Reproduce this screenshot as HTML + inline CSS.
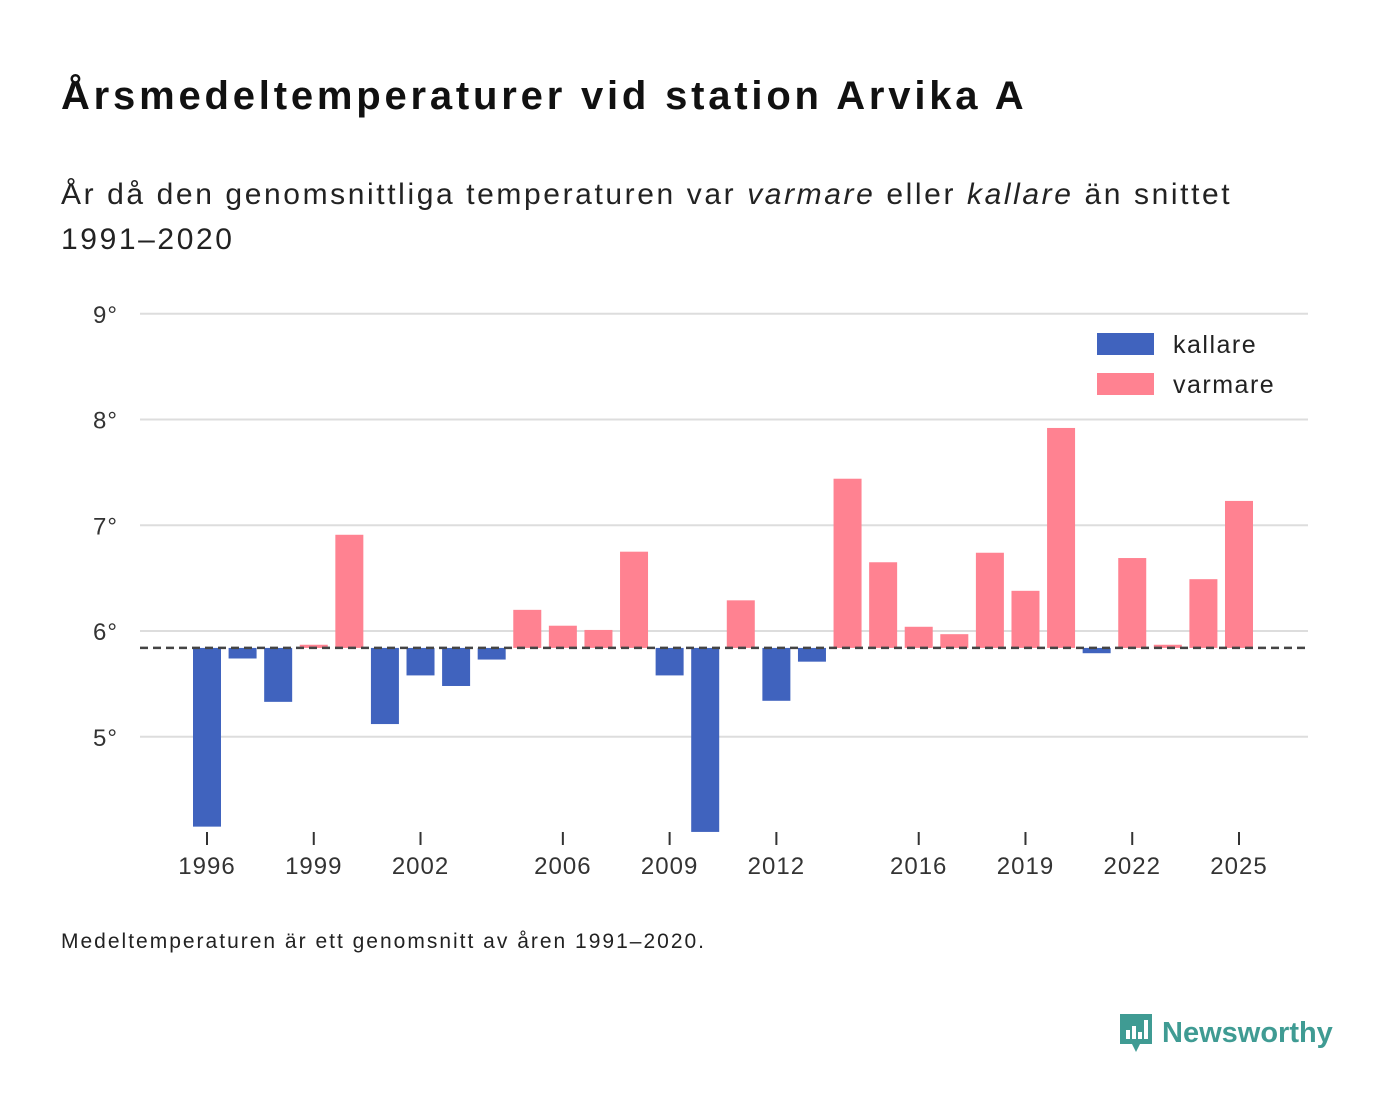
<!DOCTYPE html>
<html><head><meta charset="utf-8"><style>
body{margin:0;width:1400px;height:1116px;background:#fff;font-family:"Liberation Sans","DejaVu Sans",sans-serif;color:#111;overflow:hidden}
#title{position:absolute;left:61px;top:74px;font-size:40px;font-weight:bold;margin:0;letter-spacing:3.8px;white-space:nowrap}
#sub{position:absolute;left:61px;top:172px;font-size:30px;line-height:45px;width:1300px;color:#222;letter-spacing:2.6px}
#note{position:absolute;left:61px;top:930px;font-size:21px;color:#222;letter-spacing:2px;white-space:nowrap}
#logo{position:absolute;left:1118px;top:1012px;display:flex;align-items:center;gap:8px;color:#3f9b93;font-weight:bold;font-size:29px}
</style></head><body>
<h1 id="title">Årsmedeltemperaturer vid station Arvika A</h1>
<div id="sub">År då den genomsnittliga temperaturen var <i>varmare</i> eller <i>kallare</i> än snittet<br>1991–2020</div>
<svg id="chart" width="1400" height="1116" style="position:absolute;left:0;top:0"></svg>
<div id="note">Medeltemperaturen är ett genomsnitt av åren 1991–2020.</div>
<div id="logo"><svg width="36" height="42" viewBox="0 0 36 42"><path d="M2 2h32v30H22l-4 8-4-8H2z" fill="#3f9b93"/><rect x="8" y="18" width="4" height="9" fill="#fff"/><rect x="14" y="14" width="4" height="13" fill="#fff"/><rect x="20" y="20" width="4" height="7" fill="#fff"/><rect x="26" y="8" width="4" height="19" fill="#fff"/></svg><span>Newsworthy</span></div>
<script>
const years=[1996,1997,1998,1999,2000,2001,2002,2003,2004,2005,2006,2007,2008,2009,2010,2011,2012,2013,2014,2015,2016,2017,2018,2019,2020,2021,2022,2023,2024,2025];
const temps=[4.15,5.74,5.33,5.87,6.91,5.12,5.58,5.48,5.73,6.20,6.05,6.01,6.75,5.58,4.10,6.29,5.34,5.71,7.44,6.65,6.04,5.97,6.74,6.38,7.92,5.79,6.69,5.87,6.49,7.23];
const avg=5.84;
const yTicks=[5,6,7,8,9];
const xTicks=[1996,1999,2002,2006,2009,2012,2016,2019,2022,2025];
const svg=document.getElementById('chart');const NS='http://www.w3.org/2000/svg';
const y=v=>631-(v-6)*105.75;
const x=yr=>207+(yr-1996)*35.586;
function mk(t,a,p){const e=document.createElementNS(NS,t);for(const k in a)e.setAttribute(k,a[k]);(p||svg).appendChild(e);return e;}
yTicks.forEach(v=>{
 const g=mk('line',{x1:140,x2:1308,y1:y(v),y2:y(v),stroke:'#ddd','stroke-width':2});
 
 
 const t=mk('text',{x:118,y:y(v)+9,'text-anchor':'end','font-size':24,fill:'#333','letter-spacing':1});t.textContent=v+'°';
 
 
});
years.forEach((yr,i)=>{
 const v=temps[i];const warm=v>=avg;
 const r=mk('rect',{x:x(yr)-14,width:28,y:Math.min(y(v),y(avg)),height:Math.abs(y(v)-y(avg)),fill:warm?'#ff8291':'#4063be'});
 
 
});
const al=mk('line',{x1:140,x2:1308,y1:y(avg),y2:y(avg),stroke:'#444','stroke-width':2.5,'stroke-dasharray':'8,5'});


xTicks.forEach(yr=>{
 const l=mk('line',{x1:x(yr),x2:x(yr),y1:832,y2:845,stroke:'#333','stroke-width':2});
 
 
 const t=mk('text',{x:x(yr),y:874,'text-anchor':'middle','font-size':24,fill:'#333','letter-spacing':1});t.textContent=yr;
 
 
});
[['kallare','#4063be',344],['varmare','#ff8291',384]].forEach(([n,c,yy])=>{
 const r=mk('rect',{x:1097,y:yy-11,width:57,height:22,fill:c});
 
 
 const t=mk('text',{x:1173,y:yy+9,'font-size':25,fill:'#222','letter-spacing':1.5});t.textContent=n;
 
 
});
</script>
</body></html>
